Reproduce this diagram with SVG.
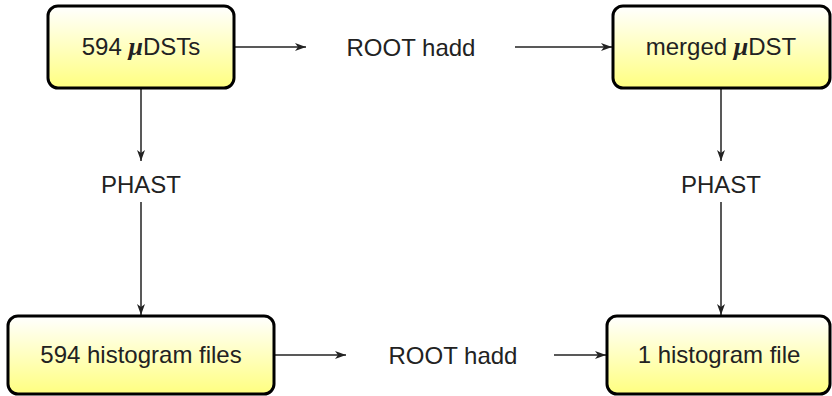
<svg xmlns="http://www.w3.org/2000/svg" width="832" height="396" viewBox="0 0 832 396">
<defs>
<linearGradient id="g" x1="0" y1="0" x2="0" y2="1">
<stop offset="0" stop-color="#ffffff"/>
<stop offset="1" stop-color="#ffff80"/>
</linearGradient>
<marker id="ah" markerWidth="12" markerHeight="8" refX="11" refY="4" orient="auto" markerUnits="userSpaceOnUse">
<path d="M0,0 L11,4 L0,8 L3,4 Z" fill="#222"/>
</marker>
<style>
.box{fill:url(#g);stroke:#000;stroke-width:3}
.t{font-family:"Liberation Sans","DejaVu Sans",sans-serif;font-size:24px;fill:#222;text-anchor:middle}
.c{stroke:#222;stroke-width:1.5;fill:none}
.m{font-family:"Liberation Serif",serif;font-style:italic;font-weight:bold;font-size:26px}
</style>
</defs>
<g id="connectors">
<line class="c" x1="235" y1="47" x2="306" y2="47" marker-end="url(#ah)"/>
<line class="c" x1="515" y1="47" x2="612" y2="47" marker-end="url(#ah)"/>
<line class="c" x1="275" y1="355" x2="346" y2="355" marker-end="url(#ah)"/>
<line class="c" x1="554" y1="355" x2="606" y2="355" marker-end="url(#ah)"/>
<line class="c" x1="141" y1="89" x2="141" y2="161" marker-end="url(#ah)"/>
<line class="c" x1="141" y1="202" x2="141" y2="315" marker-end="url(#ah)"/>
<line class="c" x1="721" y1="89" x2="721" y2="161" marker-end="url(#ah)"/>
<line class="c" x1="721" y1="202" x2="721" y2="315" marker-end="url(#ah)"/>
<text class="t" x="411" y="56">ROOT hadd</text>
<text class="t" x="453" y="364">ROOT hadd</text>
<text class="t" x="141" y="193">PHAST</text>
<text class="t" x="721" y="193">PHAST</text>
</g>
<g id="n1">
<rect class="box" x="48" y="6" width="186" height="82" rx="10"/>
<text class="t" x="141" y="55">594 <tspan class="m">μ</tspan>DSTs</text>
</g>
<g id="n2">
<rect class="box" x="613" y="6" width="217" height="82" rx="10"/>
<text class="t" x="721" y="55">merged <tspan class="m">μ</tspan>DST</text>
</g>
<g id="n3">
<rect class="box" x="8" y="316" width="266" height="78" rx="10"/>
<text class="t" x="141" y="363">594 histogram files</text>
</g>
<g id="n4">
<rect class="box" x="607" y="316" width="223" height="78" rx="10"/>
<text class="t" x="719" y="363">1 histogram file</text>
</g>
</svg>
